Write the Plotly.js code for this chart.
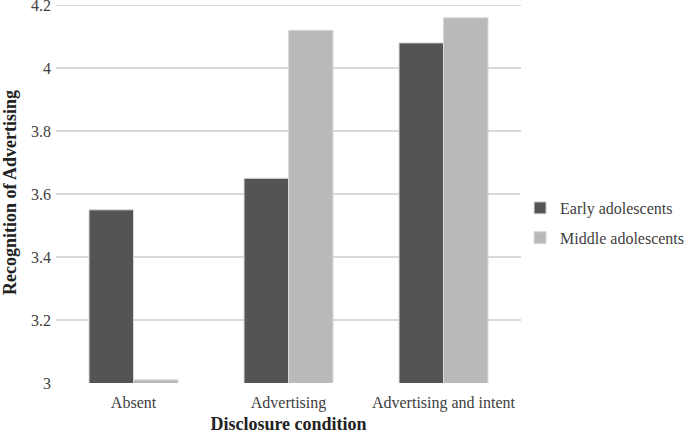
<!DOCTYPE html>
<html>
<head>
<meta charset="utf-8">
<script src="https://cdn.plot.ly/plotly-3.0.1.min.js"></script>
<style>html,body{margin:0;padding:0;background:#fff;}#chart{width:685px;height:434px;}</style>
</head>
<body>
<div id="chart"></div>
<script>
var categories = ["Absent", "Advertising", "Advertising and intent"];
var earlyAdolescents = [3.55, 3.65, 4.08];
var middleAdolescents = [3.01, 4.12, 4.16];
var yTickValues = [3, 3.2, 3.4, 3.6, 3.8, 4, 4.2];
var yTickLabels = ["3", "3.2", "3.4", "3.6", "3.8", "4", "4.2"];

var font = "'Liberation Serif', 'Times New Roman', serif";

var traces = [
  {
    type: "bar", name: "Early adolescents", x: categories, y: earlyAdolescents,
    legendgroup: "a",
    marker: {color: "#545456", line: {color: "#d9d9d9", width: 1}}
  },
  {
    type: "bar", name: "Middle adolescents", x: categories, y: middleAdolescents,
    legendgroup: "b",
    marker: {color: "#b8b9bb", line: {color: "#d9d9d9", width: 1}}
  }
];

var layout = {
  width: 685, height: 434,
  margin: {l: 56, r: 164, t: 2.35, b: 51, autoexpand: false},
  paper_bgcolor: "#fff", plot_bgcolor: "#fff",
  barmode: "group", bargap: 0.426, bargroupgap: 0,
  font: {family: font, size: 16, color: "#404040"},
  xaxis: {
    title: {text: "Disclosure condition", font: {family: font, size: 18, color: "#222", weight: "bold"}, standoff: 6},
    showline: false, ticks: "", tickfont: {family: font, size: 16, color: "#404040"},
    ticklabelstandoff: 8,
    showgrid: false
  },
  yaxis: {
    title: {text: "Recognition of Advertising", font: {family: font, size: 18, color: "#222", weight: "bold"}, standoff: 10},
    range: [3, 4.21], tickvals: yTickValues, ticktext: yTickLabels,
    showgrid: true, gridcolor: "#d9d9d9", gridwidth: 1.3,
    zeroline: false, showline: false, ticks: "",
    ticklabelstandoff: 4, ticklabeloverflow: "allow",
    tickfont: {family: font, size: 16, color: "#404040"}
  },
  legend: {
    x: 0.998, xanchor: "left", y: 0.42, yanchor: "middle",
    font: {family: font, size: 16, color: "#404040"},
    traceorder: "grouped", tracegroupgap: 6, itemwidth: 30
  },
  showlegend: true
};

Plotly.newPlot("chart", traces, layout, {displayModeBar: false, staticPlot: true});
</script>
</body>
</html>
